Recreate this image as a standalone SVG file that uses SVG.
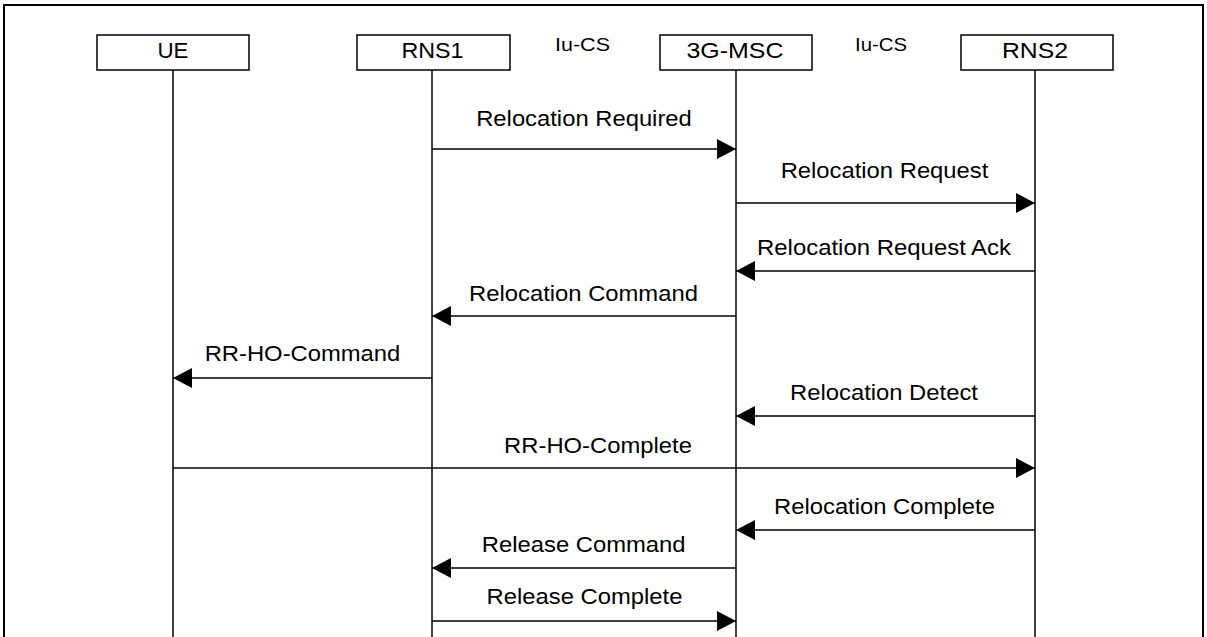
<svg xmlns="http://www.w3.org/2000/svg" width="1207" height="637" viewBox="0 0 1207 637">
<style>
.box{fill:#fff;stroke:#000;stroke-width:1.5}
.life{stroke:#000;stroke-width:1.5;fill:none}
.msg{stroke:#000;stroke-width:1.5;fill:none;marker-end:url(#ah)}
.lbl{font-family:"Liberation Sans",Arial,sans-serif;font-size:22px;fill:#000;text-anchor:middle}
.iu{font-family:"Liberation Sans",Arial,sans-serif;font-size:19px;fill:#000;text-anchor:middle}
</style>
<defs>
<marker id="ah" markerUnits="userSpaceOnUse" markerWidth="19" markerHeight="20" refX="19" refY="10" orient="auto" viewBox="0 0 19 20">
<path d="M0,0 L19,10 L0,20 Z" fill="#000"/>
</marker>
</defs>
<rect width="1207" height="637" fill="#fff"/>
<path d="M4,637 V5 H1203 V637" fill="none" stroke="#000" stroke-width="2"/>
<g id="UE">
<line class="life" x1="173" y1="70" x2="173" y2="637"/>
<rect class="box" x="97" y="35" width="152" height="35"/>
<text class="lbl" x="173" y="57.5" textLength="31" lengthAdjust="spacingAndGlyphs">UE</text>
</g>
<g id="RNS1">
<line class="life" x1="432" y1="70" x2="432" y2="637"/>
<rect class="box" x="357" y="35" width="153" height="35"/>
<text class="lbl" x="432.5" y="57.5" textLength="62" lengthAdjust="spacingAndGlyphs">RNS1</text>
</g>
<g id="MSC">
<line class="life" x1="736" y1="70" x2="736" y2="637"/>
<rect class="box" x="660" y="35" width="152" height="35"/>
<text class="lbl" x="735" y="57.5" textLength="97" lengthAdjust="spacingAndGlyphs">3G-MSC</text>
</g>
<g id="RNS2">
<line class="life" x1="1035" y1="70" x2="1035" y2="637"/>
<rect class="box" x="961" y="35" width="152" height="35"/>
<text class="lbl" x="1035" y="57.5" textLength="66" lengthAdjust="spacingAndGlyphs">RNS2</text>
</g>
<g id="interfaces">
<text class="iu" x="582.5" y="50.5" textLength="55" lengthAdjust="spacingAndGlyphs">Iu-CS</text>
<text class="iu" x="881" y="50.5" textLength="52" lengthAdjust="spacingAndGlyphs">Iu-CS</text>
</g>
<g id="connectors">
<line class="msg" x1="432" y1="149" x2="736" y2="149"/>
<line class="msg" x1="736" y1="203" x2="1035" y2="203"/>
<line class="msg" x1="1035" y1="271" x2="736" y2="271"/>
<line class="msg" x1="736" y1="316" x2="432" y2="316"/>
<line class="msg" x1="432" y1="378" x2="173" y2="378"/>
<line class="msg" x1="1035" y1="416" x2="736" y2="416"/>
<line class="msg" x1="173" y1="468" x2="1035" y2="468"/>
<line class="msg" x1="1035" y1="530" x2="736" y2="530"/>
<line class="msg" x1="736" y1="568" x2="432" y2="568"/>
<line class="msg" x1="432" y1="621" x2="736" y2="621"/>
<text class="lbl" x="584" y="126" textLength="215.6" lengthAdjust="spacingAndGlyphs">Relocation Required</text>
<text class="lbl" x="884.5" y="178" textLength="207.7" lengthAdjust="spacingAndGlyphs">Relocation Request</text>
<text class="lbl" x="884" y="255" textLength="254" lengthAdjust="spacingAndGlyphs">Relocation Request Ack</text>
<text class="lbl" x="583.5" y="301" textLength="228.8" lengthAdjust="spacingAndGlyphs">Relocation Command</text>
<text class="lbl" x="302.5" y="361" textLength="195.7" lengthAdjust="spacingAndGlyphs">RR-HO-Command</text>
<text class="lbl" x="884" y="399.5" textLength="187.8" lengthAdjust="spacingAndGlyphs">Relocation Detect</text>
<text class="lbl" x="598" y="453" textLength="187.8" lengthAdjust="spacingAndGlyphs">RR-HO-Complete</text>
<text class="lbl" x="884.5" y="513.5" textLength="220.9" lengthAdjust="spacingAndGlyphs">Relocation Complete</text>
<text class="lbl" x="583.7" y="552" textLength="203.7" lengthAdjust="spacingAndGlyphs">Release Command</text>
<text class="lbl" x="584.5" y="604" textLength="195.8" lengthAdjust="spacingAndGlyphs">Release Complete</text>
</g>
</svg>
